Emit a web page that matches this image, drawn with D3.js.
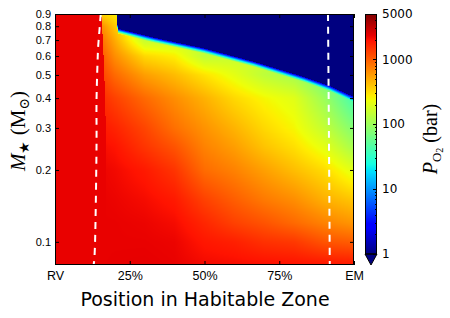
<!DOCTYPE html>
<html>
<head>
<meta charset="utf-8">
<script src="https://cdn.jsdelivr.net/npm/d3@7"></script>
<style>
body { margin: 0; background: #fff; }
svg { display: block; font-family: "DejaVu Sans", sans-serif; }
</style>
</head>
<body>
<svg id="chart" width="450" height="318"></svg>
<script>
"use strict";

// grid: columns = position in HZ, rows = stellar mass
const positions = [0.15, 0.2, 0.3, 0.4, 0.5, 0.6, 0.7, 0.8, 0.9, 1.0];
const masses = [0.9, 0.8, 0.7, 0.6, 0.5, 0.4, 0.3, 0.25, 0.2, 0.15, 0.12, 0.1, 0.08];
const pO2 = [
  [350, 280, 150, 150, 150, 150, 150, 120, 60, 60],
  [700, 380, 150, 150, 150, 150, 150, 120, 60, 60],
  [900, 500, 150, 150, 150, 150, 150, 120, 60, 60],
  [1100, 650, 330, 270, 140, 150, 150, 120, 60, 60],
  [1300, 900, 560, 430, 300, 210, 140, 110, 60, 60],
  [1600, 1300, 900, 650, 470, 330, 250, 200, 100, 40],
  [1900, 1700, 1250, 850, 620, 460, 330, 250, 150, 75],
  [2100, 1950, 1450, 1100, 720, 560, 400, 310, 210, 110],
  [2250, 2150, 1850, 1450, 880, 720, 550, 420, 320, 200],
  [2300, 2250, 2100, 1850, 1300, 1000, 780, 650, 480, 390],
  [2300, 2300, 2250, 2100, 1650, 1300, 1100, 900, 720, 600],
  [2300, 2300, 2300, 2250, 1900, 1750, 1500, 1400, 1100, 1000],
  [2300, 2330, 2350, 2300, 2150, 2100, 2050, 2000, 1950, 1900]
];

// upper edge of the O2 region (above it, no O2)
const edgePositions = [0.205, 0.21, 0.334, 0.5, 0.667, 0.833, 0.917, 1.0];
const edgeMasses = [0.95, 0.78, 0.715, 0.645, 0.567, 0.49, 0.45, 0.404];

// runaway plateau on the inner side
const plateauMasses = [0.9, 0.7, 0.5, 0.3, 0.08];
const plateauPositions = [0.155, 0.16, 0.165, 0.17, 0.17];
const plateauP = 2300;

// dashed limits
const innerMasses = [0.9, 0.7, 0.6, 0.4, 0.3, 0.2, 0.1, 0.08];
const innerPositions = [0.153, 0.146, 0.143, 0.139, 0.139, 0.138, 0.134, 0.129];
const outerMasses = [0.9, 0.3, 0.08];
const outerPositions = [0.913, 0.916, 0.919];

const massTicks = [0.1, 0.2, 0.3, 0.4, 0.5, 0.6, 0.7, 0.8, 0.9];
const posTicks = [0, 0.25, 0.5, 0.75, 1];
const posTickLabels = ['RV', '25%', '50%', '75%', 'EM'];
const cbarTicks = [1, 10, 100, 1000, 5000];

const x = d3.scaleLinear().domain([0, 1]).range([55, 354]);
const y = d3.scaleLog().domain([0.08, 0.9]).range([265, 14]);
const cNorm = d3.scaleLog().domain([1, 5000]).range([0, 1]).clamp(true);
const cy = d3.scaleLog().domain([1, 5000]).range([254, 14]);

const jetR = d3.scaleLinear().domain([0, 0.35, 0.66, 0.89, 1]).range([0, 0, 1, 1, 0.5]).clamp(true);
const jetG = d3.scaleLinear().domain([0, 0.125, 0.375, 0.64, 0.91, 1]).range([0, 0, 1, 1, 0, 0]).clamp(true);
const jetB = d3.scaleLinear().domain([0, 0.11, 0.34, 0.65, 1]).range([0.5, 1, 1, 0, 0]).clamp(true);

function jet(v)
{
  const t = v < 1 ? 0 : cNorm(v);
  return [jetR(t) * 255, jetG(t) * 255, jetB(t) * 255].map(Math.round);
}

const colIndex = d3.scaleLinear().domain(positions).range(d3.range(positions.length)).clamp(true);
const rowIndex = d3.scaleLog().domain(masses).range(d3.range(masses.length)).clamp(true);
const edgeLogM = d3.scaleLinear().domain(edgePositions).range(edgeMasses.map(Math.log10)).clamp(true);
const plateauPos = d3.scaleLog().domain(plateauMasses).range(plateauPositions).clamp(true);
const logGrid = pO2.map(r => r.map(Math.log10));
const edgeBand = 5;

function fieldAt(p, m)
{
  if (p < plateauPos(m)) return plateauP;
  const yEdge = y(10 ** edgeLogM(p));
  const yp = y(m);
  if (yp < yEdge) return 0;
  const fc = colIndex(p), fr = rowIndex(m);
  const c0 = Math.min(Math.floor(fc), positions.length - 2);
  const r0 = Math.min(Math.floor(fr), masses.length - 2);
  const u = fc - c0, w = fr - r0;
  let v = (1 - u) * (1 - w) * logGrid[r0][c0] + u * (1 - w) * logGrid[r0][c0 + 1]
    + (1 - u) * w * logGrid[r0 + 1][c0] + u * w * logGrid[r0 + 1][c0 + 1];
  const d = yp - yEdge;
  if (d < edgeBand) v = v * (d / edgeBand) + Math.log10(2) * (1 - d / edgeBand);
  return 10 ** v;
}

const svg = d3.select('#chart');

// heat map painted on a canvas, then placed in the svg
const pw = 299, ph = 251;
const canvas = document.createElement('canvas');
canvas.width = pw;
canvas.height = ph;
const ctx = canvas.getContext('2d');
const img = ctx.createImageData(pw, ph);
for (let j = 0; j < ph; j++)
{
  const m = y.invert(14 + j + 0.5);
  for (let i = 0; i < pw; i++)
  {
    const col = jet(fieldAt(x.invert(55 + i + 0.5), m));
    const k = (j * pw + i) * 4;
    img.data[k] = col[0];
    img.data[k + 1] = col[1];
    img.data[k + 2] = col[2];
    img.data[k + 3] = 255;
  }
}
ctx.putImageData(img, 0, 0);

svg.append('image')
  .attr('x', 55).attr('y', 14)
  .attr('width', pw).attr('height', ph)
  .attr('href', canvas.toDataURL());

svg.append('clipPath').attr('id', 'plotclip')
  .append('rect').attr('x', 55).attr('y', 14).attr('width', pw).attr('height', ph);

const limitLine = d3.line()
  .x(d => x(d[0]))
  .y(d => y(d[1]))
  .curve(d3.curveNatural);

[d3.zip(innerPositions, innerMasses), d3.zip(outerPositions, outerMasses)].forEach(pts =>
{
  svg.append('path')
    .attr('d', limitLine(pts))
    .attr('clip-path', 'url(#plotclip)')
    .attr('fill', 'none')
    .attr('stroke', '#fff')
    .attr('stroke-width', 2)
    .attr('stroke-dasharray', '7,6');
});

// axes
const yAxis = svg.append('g').attr('transform', 'translate(55,0)')
  .call(d3.axisLeft(y).tickValues(massTicks).tickFormat(d3.format('.1f')).tickSize(-4).tickPadding(4));
svg.append('g').attr('transform', 'translate(354,0)')
  .call(d3.axisRight(y).tickValues(massTicks).tickFormat('').tickSize(-4));
const xAxis = svg.append('g').attr('transform', 'translate(0,265)')
  .call(d3.axisBottom(x).tickValues(posTicks).tickFormat((d, i) => posTickLabels[i]).tickSize(-4).tickPadding(6));
svg.append('g').attr('transform', 'translate(0,14)')
  .call(d3.axisTop(x).tickValues(posTicks).tickFormat('').tickSize(-4));

svg.selectAll('.domain').remove();
svg.selectAll('.tick line').attr('stroke', '#000');
yAxis.selectAll('text').style('font-size', '11px').attr('fill', '#000');
xAxis.selectAll('text').style('font-size', '12.5px').attr('fill', '#000');

svg.append('rect')
  .attr('x', 55.5).attr('y', 14.5).attr('width', pw - 1).attr('height', ph - 1)
  .attr('fill', 'none').attr('stroke', '#000');

svg.append('text')
  .attr('x', 205).attr('y', 306)
  .attr('text-anchor', 'middle')
  .style('font-size', '19px')
  .text('Position in Habitable Zone');

const ylab = svg.append('text')
  .attr('transform', 'translate(25,131) rotate(-90)')
  .attr('text-anchor', 'middle')
  .style('font-family', '"Liberation Serif", "DejaVu Serif", serif')
  .style('font-size', '21px');
ylab.append('tspan').style('font-style', 'italic').text('M');
ylab.append('tspan').attr('dy', 4).style('font-size', '14px').text('★');
ylab.append('tspan').attr('dy', -4).text(' (M');
ylab.append('tspan').attr('dy', 4).style('font-size', '14px').text('⊙');
ylab.append('tspan').attr('dy', -4).text(')');

// colour bar
const cbX = 365, cbW = 12;
svg.append('g').selectAll('rect')
  .data(d3.range(14, 254))
  .join('rect')
  .attr('x', cbX).attr('y', d => d)
  .attr('width', cbW).attr('height', 1.2)
  .attr('fill', d => { const c = jet(cy.invert(d + 0.5)); return `rgb(${c})`; });
svg.append('path')
  .attr('d', `M${cbX},254 L${cbX + cbW},254 L${cbX + cbW / 2},265 Z`)
  .attr('fill', `rgb(${jet(0)})`)
  .attr('stroke', '#000');
svg.append('rect')
  .attr('x', cbX + 0.5).attr('y', 14.5).attr('width', cbW - 1).attr('height', 239.5)
  .attr('fill', 'none').attr('stroke', '#000');

const minor = [];
[1, 10, 100, 1000].forEach(dec => d3.range(2, 10).forEach(k => { if (dec * k < 5000) minor.push(dec * k); }));
svg.append('g').selectAll('line')
  .data(minor)
  .join('line')
  .attr('x1', cbX + cbW).attr('x2', cbX + cbW - 2)
  .attr('y1', d => Math.round(cy(d)) + 0.5).attr('y2', d => Math.round(cy(d)) + 0.5)
  .attr('stroke', '#000');
svg.append('g').selectAll('line')
  .data(cbarTicks)
  .join('line')
  .attr('x1', cbX + cbW).attr('x2', cbX + cbW - 4)
  .attr('y1', d => Math.round(cy(d)) + 0.5).attr('y2', d => Math.round(cy(d)) + 0.5)
  .attr('stroke', '#000');
svg.append('g').selectAll('text')
  .data(cbarTicks)
  .join('text')
  .attr('x', 382).attr('y', d => cy(d))
  .attr('dy', '0.35em')
  .style('font-size', '12px')
  .text(d => d);

const clab = svg.append('text')
  .attr('transform', 'translate(437,139) rotate(-90)')
  .attr('text-anchor', 'middle')
  .style('font-family', '"Liberation Serif", "DejaVu Serif", serif')
  .style('font-size', '20px');
clab.append('tspan').style('font-style', 'italic').text('P');
clab.append('tspan').attr('dy', 4).style('font-size', '13px').text('O');
clab.append('tspan').attr('dy', 2).style('font-size', '10px').text('2');
clab.append('tspan').attr('dy', -6).text(' (bar)');
</script>
</body>
</html>
